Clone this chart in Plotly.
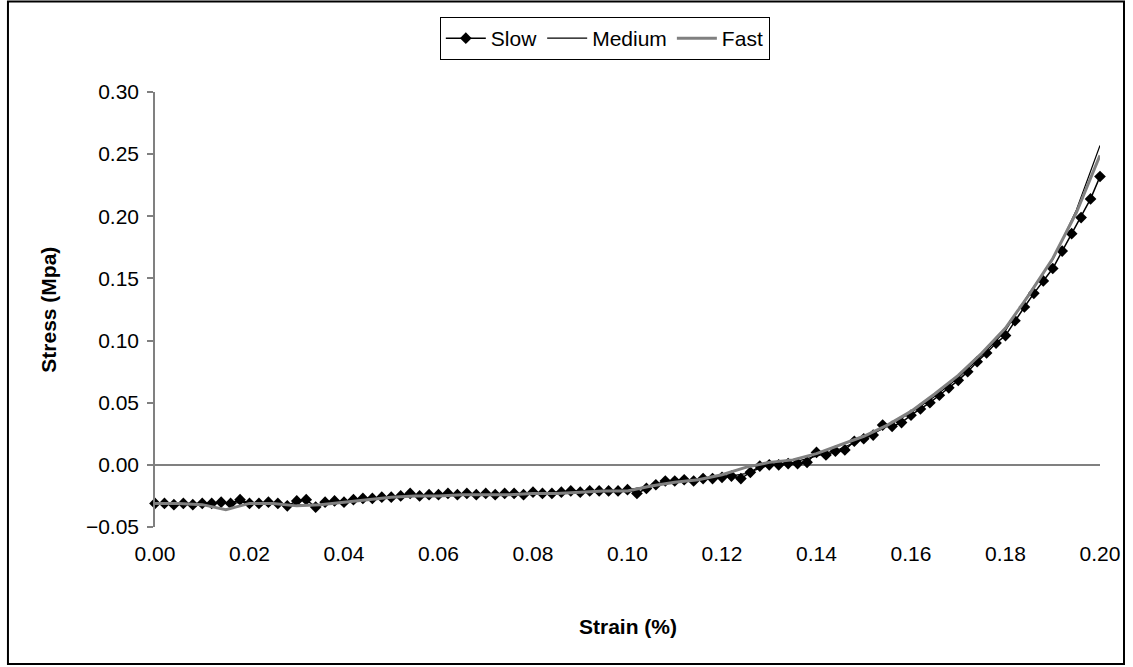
import plotly.graph_objects as go

# ---- data ----
slow_strain = [0.000, 0.002, 0.004, 0.006, 0.008, 0.010, 0.012, 0.014, 0.016, 0.018,
               0.020, 0.022, 0.024, 0.026, 0.028, 0.030, 0.032, 0.034, 0.036, 0.038,
               0.040, 0.042, 0.044, 0.046, 0.048, 0.050, 0.052, 0.054, 0.056, 0.058,
               0.060, 0.062, 0.064, 0.066, 0.068, 0.070, 0.072, 0.074, 0.076, 0.078,
               0.080, 0.082, 0.084, 0.086, 0.088, 0.090, 0.092, 0.094, 0.096, 0.098,
               0.100, 0.102, 0.104, 0.106, 0.108, 0.110, 0.112, 0.114, 0.116, 0.118,
               0.120, 0.122, 0.124, 0.126, 0.128, 0.130, 0.132, 0.134, 0.136, 0.138,
               0.140, 0.142, 0.144, 0.146, 0.148, 0.150, 0.152, 0.154, 0.156, 0.158,
               0.160, 0.162, 0.164, 0.166, 0.168, 0.170, 0.172, 0.174, 0.176, 0.178,
               0.180, 0.182, 0.184, 0.186, 0.188, 0.190, 0.192, 0.194, 0.196, 0.198,
               0.200]
slow_stress = [-0.031, -0.031, -0.032, -0.031, -0.032, -0.031, -0.031, -0.030, -0.031, -0.028,
               -0.031, -0.031, -0.030, -0.031, -0.033, -0.029, -0.028, -0.034, -0.030, -0.029,
               -0.030, -0.028, -0.027, -0.027, -0.026, -0.026, -0.025, -0.023, -0.025, -0.024,
               -0.024, -0.023, -0.024, -0.023, -0.024, -0.023, -0.024, -0.023, -0.023, -0.024,
               -0.022, -0.023, -0.023, -0.022, -0.021, -0.022, -0.021, -0.021, -0.021, -0.021,
               -0.020, -0.023, -0.019, -0.016, -0.013, -0.013, -0.012, -0.013, -0.011, -0.011,
               -0.010, -0.009, -0.011, -0.006, -0.001, 0.000, 0.000, 0.001, 0.001, 0.002,
               0.010, 0.008, 0.011, 0.012, 0.019, 0.021, 0.024, 0.032, 0.031, 0.034,
               0.040, 0.045, 0.050, 0.056, 0.062, 0.068, 0.075, 0.083, 0.090, 0.098,
               0.104, 0.116, 0.127, 0.138, 0.148, 0.158, 0.172, 0.186, 0.199, 0.214,
               0.232]

line_strain = [0.000, 0.005, 0.010, 0.015, 0.020, 0.025, 0.030, 0.035, 0.040, 0.045,
               0.050, 0.055, 0.060, 0.065, 0.070, 0.075, 0.080, 0.085, 0.090, 0.095,
               0.100, 0.105, 0.110, 0.115, 0.120, 0.125, 0.130, 0.135, 0.140, 0.145,
               0.150, 0.155, 0.160, 0.165, 0.170, 0.175, 0.180, 0.185, 0.190, 0.195,
               0.200]
medium_stress = [-0.031, -0.031, -0.031, -0.031, -0.030, -0.031, -0.032, -0.032, -0.029, -0.027,
                 -0.026, -0.025, -0.024, -0.024, -0.024, -0.023, -0.023, -0.022, -0.021, -0.021,
                 -0.020, -0.017, -0.013, -0.012, -0.010, -0.007, 0.000, 0.002, 0.007, 0.013,
                 0.021, 0.031, 0.042, 0.055, 0.070, 0.088, 0.108, 0.138, 0.165, 0.205,
                 0.257]
fast_stress = [-0.031, -0.031, -0.032, -0.036, -0.031, -0.031, -0.033, -0.032, -0.030, -0.028,
               -0.026, -0.025, -0.025, -0.024, -0.024, -0.024, -0.023, -0.023, -0.022, -0.021,
               -0.021, -0.017, -0.014, -0.012, -0.008, -0.002, 0.002, 0.004, 0.009, 0.016,
               0.023, 0.032, 0.043, 0.057, 0.072, 0.090, 0.110, 0.137, 0.166, 0.203,
               0.249]

x_ticks = [0.00, 0.02, 0.04, 0.06, 0.08, 0.10, 0.12, 0.14, 0.16, 0.18, 0.20]
y_ticks = [-0.05, 0.00, 0.05, 0.10, 0.15, 0.20, 0.25, 0.30]

FONT = "Arial, Liberation Sans, sans-serif"
FS = 21
X_RANGE = [0, 0.2]
Y_RANGE = [-0.05, 0.30]

fig = go.Figure()
fig.add_trace(go.Scatter(
    x=slow_strain, y=slow_stress, name="Slow", mode="lines+markers",
    line=dict(color="black", width=1.5),
    marker=dict(symbol="diamond", size=9, color="black"),
    cliponaxis=False,
))
fig.add_trace(go.Scatter(
    x=line_strain, y=medium_stress, name="Medium", mode="lines",
    line=dict(color="black", width=1.2),
))
fig.add_trace(go.Scatter(
    x=line_strain, y=fast_stress, name="Fast", mode="lines",
    line=dict(color="#808080", width=3),
))

zero_pos = (0 - Y_RANGE[0]) / (Y_RANGE[1] - Y_RANGE[0])

fig.update_layout(
    width=1133, height=667,
    margin=dict(l=155, r=33, t=92, b=140),
    paper_bgcolor="white", plot_bgcolor="white",
    font=dict(family=FONT, size=FS, color="black"),
    showlegend=True,
    legend=dict(
        orientation="h", x=0.476, xanchor="center", y=1.1724, yanchor="top",
        bordercolor="black", borderwidth=1, bgcolor="white",
        font=dict(family=FONT, size=FS, color="black"),
        itemwidth=40, tracegroupgap=0,
    ),
    xaxis=dict(
        range=X_RANGE, tickvals=x_ticks, tickformat=".2f",
        showline=False, showgrid=False, zeroline=False,
        ticks="outside", ticklen=8, tickcolor="rgba(0,0,0,0)",
        tickfont=dict(family=FONT, size=FS, color="black"),
    ),
    xaxis2=dict(
        range=X_RANGE, overlaying="x", anchor="free", position=zero_pos,
        side="bottom", tickvals=x_ticks, showticklabels=False,
        showline=False, showgrid=False, zeroline=False,
        ticks="outside", ticklen=6, tickcolor="#808080", tickwidth=1.5,
    ),
    yaxis=dict(
        range=Y_RANGE, tickvals=y_ticks, tickformat=".2f",
        showline=True, linecolor="#808080", linewidth=1.5,
        showgrid=False, zeroline=True, zerolinecolor="#808080", zerolinewidth=2,
        ticks="outside", ticklen=6, tickcolor="#808080", tickwidth=1.5,
        ticklabelstandoff=4,
        tickfont=dict(family=FONT, size=FS, color="black"),
    ),
    annotations=[
        dict(text="<b>Strain (%)</b>", xref="paper", yref="paper",
             x=0.5, y=-0.2276, xanchor="center", yanchor="middle",
             showarrow=False, font=dict(family=FONT, size=FS, color="black")),
        dict(text="<b>Stress (Mpa)</b>", xref="paper", yref="paper",
             x=-0.113, y=0.5, xanchor="center", yanchor="middle", textangle=-90,
             showarrow=False, font=dict(family=FONT, size=FS, color="black")),
    ],
    shapes=[
        dict(type="rect", xref="paper", yref="paper",
             x0=-0.1556, x1=1.0254, y0=-0.315, y1=1.208,
             line=dict(color="black", width=2), fillcolor="rgba(0,0,0,0)", layer="above"),
    ],
)

fig.write_html("out.html")
